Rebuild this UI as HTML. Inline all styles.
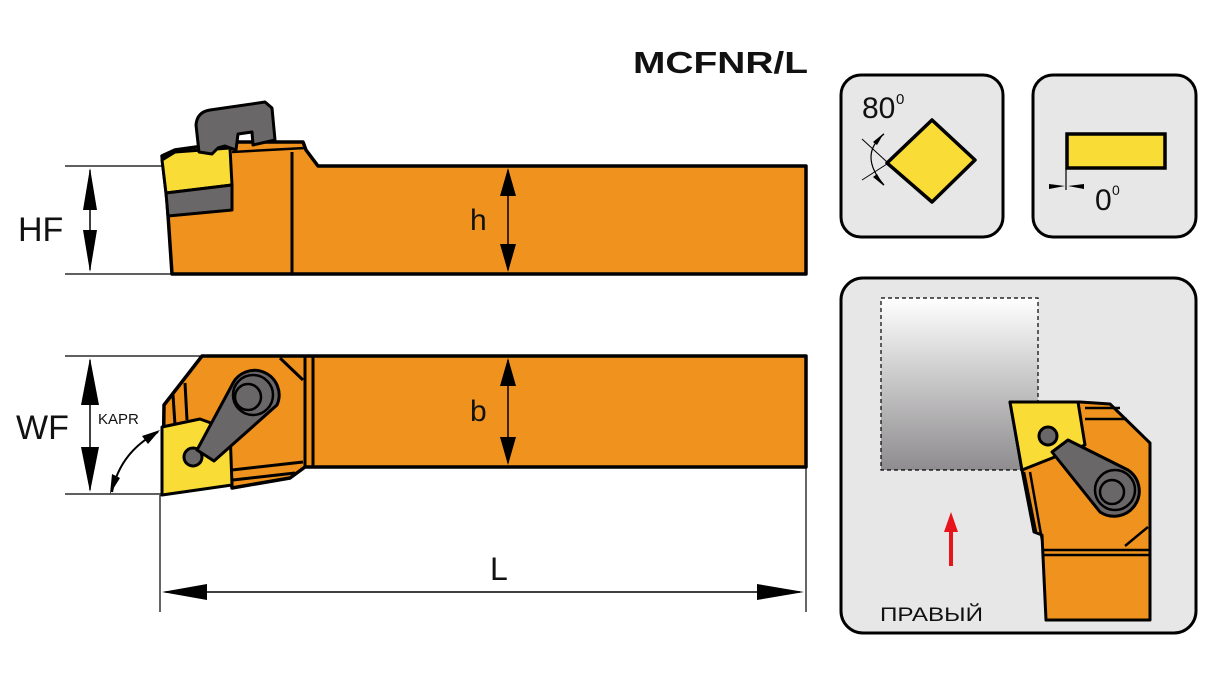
<!DOCTYPE html>
<html><head><meta charset="utf-8"><style>
html,body{margin:0;padding:0;background:#fff;}
svg{display:block;font-family:"Liberation Sans",sans-serif;}
</style></head><body>
<svg width="1226" height="678" viewBox="0 0 1226 678" xmlns="http://www.w3.org/2000/svg">
<defs>
<linearGradient id="g" x1="0" y1="0" x2="0" y2="1">
<stop offset="0" stop-color="#ffffff"/><stop offset="1" stop-color="#8e8c8e"/>
</linearGradient>
</defs>
<rect width="1226" height="678" fill="#fff"/>
<text x="633" y="73" font-size="31" font-weight="bold" fill="#111" textLength="175" lengthAdjust="spacingAndGlyphs">MCFNR/L</text>

<!-- TOP TOOL -->
<g stroke="#000" stroke-width="1.2">
<line x1="65" y1="166" x2="175" y2="166"/><line x1="65" y1="274" x2="175" y2="274"/>
</g>
<path d="M90 168 L83 210 L97 210 Z M90 272 L83 230 L97 230 Z" fill="#000"/>
<line x1="90" y1="170" x2="90" y2="270" stroke="#000" stroke-width="1.5"/>
<text x="18" y="241" font-size="34" fill="#111">HF</text>
<path d="M172 274 L167 200 L162 156 L175 150 L232 142 L303 142 L306 150 L318 166 L806 166 L806 274 Z" fill="#f0921e" stroke="#000" stroke-width="3.5" stroke-linejoin="round"/>
<line x1="292" y1="152" x2="292" y2="274" stroke="#000" stroke-width="3"/>
<line x1="232" y1="152" x2="305" y2="148" stroke="#000" stroke-width="2.5"/>
<path d="M162 160 L175 152 L230 148 L232 185 L166 193 Z" fill="#f9dc35" stroke="#000" stroke-width="3" stroke-linejoin="round"/>
<path d="M166 193 L232 185 L232 210 L168 216 Z" fill="#6a6769" stroke="#000" stroke-width="3" stroke-linejoin="round"/>
<path d="M199 152 L196 125 Q197 112 210 110 L265 102 L272 108 L275 140 L253 145 L252 132 L238 134 L236 150 L225 146 L218 148 L212 154 Z" fill="#6a6769" stroke="#000" stroke-width="3" stroke-linejoin="round"/>
<line x1="508" y1="170" x2="508" y2="270" stroke="#000" stroke-width="1.5"/>
<path d="M508 168 L500 196 L516 196 Z M508 272 L500 244 L516 244 Z" fill="#000"/>
<text x="470" y="230" font-size="30" fill="#111">h</text>

<!-- BOTTOM TOOL -->
<g stroke="#000" stroke-width="1.2">
<line x1="65" y1="356" x2="205" y2="356"/><line x1="65" y1="494" x2="165" y2="494"/>
<line x1="160" y1="495" x2="160" y2="612"/><line x1="806" y1="467" x2="806" y2="612"/>
</g>
<path d="M90 358 L81 405 L99 405 Z M90 492 L81 447 L99 447 Z" fill="#000"/>
<line x1="90" y1="360" x2="90" y2="490" stroke="#000" stroke-width="1.5"/>
<text x="16" y="439" font-size="34" fill="#111">WF</text>
<text x="98" y="424" font-size="15" fill="#111">KAPR</text>
<path d="M112 492 Q120 452 158 432" fill="none" stroke="#000" stroke-width="2"/>
<path d="M110 494 L112 474 L120 478 Z M160 430 L142 436 L148 444 Z" fill="#000"/>
<path d="M163 480 L164 405 L202 356 L806 356 L806 467 L305 467 L290 478 L232 488 L228 430 Z" fill="#f0921e" stroke="#000" stroke-width="3.5" stroke-linejoin="round"/>
<g stroke="#000" stroke-width="3" fill="none">
<line x1="305" y1="356" x2="305" y2="467"/><line x1="313" y1="356" x2="313" y2="467"/>
<line x1="280" y1="358" x2="303" y2="380"/>
<line x1="173" y1="395" x2="175" y2="425"/><line x1="185" y1="383" x2="187" y2="420"/>
<line x1="232" y1="470" x2="303" y2="462"/><line x1="233" y1="480" x2="295" y2="473"/>
</g>
<path d="M162 427 L200 419 L230 430 L232 485 L162 495 Z" fill="#f9dc35" stroke="#000" stroke-width="3" stroke-linejoin="round"/>
<circle cx="193" cy="457" r="9" fill="#6a6769" stroke="#000" stroke-width="3"/>
<path d="M197 450 L232 385 A24 24 0 1 1 277 405 L214 461 Z" fill="#6a6769" stroke="#000" stroke-width="3" stroke-linejoin="round"/>
<circle cx="253" cy="395" r="20" fill="#6a6769" stroke="#000" stroke-width="2.5"/>
<circle cx="248" cy="397" r="13" fill="#6a6769" stroke="#000" stroke-width="2.5"/>
<line x1="508" y1="360" x2="508" y2="463" stroke="#000" stroke-width="1.5"/>
<path d="M508 358 L500 386 L516 386 Z M508 465 L500 437 L516 437 Z" fill="#000"/>
<text x="470" y="421" font-size="30" fill="#111">b</text>

<!-- L dimension -->
<line x1="165" y1="592" x2="800" y2="592" stroke="#000" stroke-width="1.5"/>
<path d="M162 592 L207 584 L207 600 Z M804 592 L757 584 L757 600 Z" fill="#000"/>
<text x="490" y="580" font-size="32" fill="#111">L</text>

<!-- BOX 1 -->
<rect x="841" y="75" width="162" height="162" rx="20" fill="#e8e7e8" stroke="#000" stroke-width="3"/>
<text x="862" y="118" font-size="30" fill="#111">80</text>
<text x="896" y="104" font-size="15" fill="#111">0</text>
<path d="M887 163 L932 120 L975 160 L932 202 Z" fill="#f9dc35" stroke="#000" stroke-width="3.5" stroke-linejoin="round"/>
<line x1="862" y1="139" x2="887" y2="162" stroke="#000" stroke-width="1"/>
<line x1="862" y1="180" x2="887" y2="164" stroke="#000" stroke-width="1"/>
<path d="M884 134 Q858 155 884 185" fill="none" stroke="#000" stroke-width="1.2"/>
<path d="M884 133 L873 142 L877 145 Z M884 186 L873 177 L877 174 Z" fill="#000"/>

<!-- BOX 2 -->
<rect x="1033" y="75" width="163" height="162" rx="20" fill="#e8e7e8" stroke="#000" stroke-width="3"/>
<rect x="1067" y="134" width="98" height="34" fill="#f9dc35" stroke="#000" stroke-width="3.5"/>
<line x1="1066" y1="168" x2="1066" y2="190" stroke="#000" stroke-width="1.2"/>
<path d="M1049 184 L1065 186 L1049 189 Z M1084 184 L1068 186 L1084 189 Z" fill="#000"/>
<text x="1095" y="210" font-size="30" fill="#111">0</text>
<text x="1112" y="195" font-size="14" fill="#111">0</text>

<!-- BOX 3 -->
<rect x="841" y="278" width="355" height="355" rx="22" fill="#e8e7e8" stroke="#000" stroke-width="3"/>
<rect x="881" y="298" width="157" height="172" fill="url(#g)" stroke="#000" stroke-width="1.2" stroke-dasharray="4 3"/>
<path d="M1046 620 L1042 535 L1034 532 L1022 470 L1010 402 L1080 402 L1110 404 L1150 443 L1150 620 Z" fill="#f0921e" stroke="#000" stroke-width="3" stroke-linejoin="round"/>
<g stroke="#000" stroke-width="2.5" fill="none">
<line x1="1042" y1="550" x2="1150" y2="550"/><line x1="1042" y1="555" x2="1150" y2="555"/>
<line x1="1085" y1="408" x2="1120" y2="408"/><line x1="1085" y1="419" x2="1127" y2="419"/>
<line x1="1024" y1="472" x2="1036" y2="532"/><line x1="1030" y1="472" x2="1042" y2="540"/>
<line x1="1125" y1="546" x2="1148" y2="527"/>
</g>
<path d="M1010 402 L1078 402 L1085 445 L1022 470 Z" fill="#f9dc35" stroke="#000" stroke-width="3" stroke-linejoin="round"/>
<circle cx="1048" cy="436" r="9" fill="#6a6769" stroke="#000" stroke-width="3"/>
<path d="M1052 452 L1068 440 L1128 470 A24 24 0 1 1 1100 512 Z" fill="#6a6769" stroke="#000" stroke-width="3" stroke-linejoin="round"/>
<circle cx="1115" cy="490" r="20" fill="#6a6769" stroke="#000" stroke-width="2.5"/>
<circle cx="1112" cy="492" r="12" fill="#6a6769" stroke="#000" stroke-width="2.5"/>
<line x1="951" y1="530" x2="951" y2="566" stroke="#e8141c" stroke-width="4"/>
<path d="M951 512 L944 532 L958 532 Z" fill="#e8141c"/>
<text x="880" y="621" font-size="19" fill="#111" textLength="103" lengthAdjust="spacingAndGlyphs">ПРАВЫЙ</text>
</svg>
</body></html>
